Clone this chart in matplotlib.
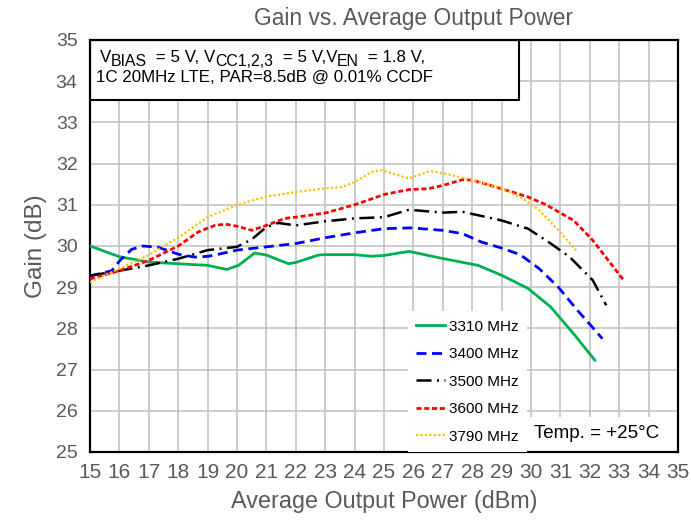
import matplotlib
matplotlib.use("Agg")
import matplotlib.pyplot as plt
from matplotlib.patches import Rectangle
from matplotlib.transforms import offset_copy

plt.rcParams['font.family'] = ['Liberation Sans', 'DejaVu Sans']

# Okunan veriler (dBm, dB)
x_3310 = [15, 16, 17, 18, 19, 19.65, 20.05, 20.6, 21.0, 21.75, 22.0, 22.77, 23.0, 24.0, 24.58,
          25.0, 25.85, 26.9, 28.2, 29.0, 29.9, 30.67, 31.45, 32.17]
g_3310 = [30.0, 29.74, 29.61, 29.57, 29.53, 29.43, 29.53, 29.83, 29.78, 29.57, 29.6, 29.78, 29.79,
          29.79, 29.75, 29.77, 29.87, 29.71, 29.53, 29.29, 28.97, 28.52, 27.87, 27.23]

x_3400 = [15, 15.74, 16.02, 16.42, 16.81, 17.32, 18.0, 18.57, 19.02, 19.37, 20.0, 21.0, 22.0, 23.0,
          24.0, 25.0, 25.9, 27.0, 27.67, 28.3, 29.0, 29.63, 30.28, 30.93, 31.58, 32.43]
g_3400 = [29.27, 29.4, 29.65, 29.92, 30.0, 29.97, 29.8, 29.73, 29.75, 29.8, 29.9, 29.98, 30.06, 30.2,
          30.32, 30.42, 30.44, 30.38, 30.3, 30.1, 29.95, 29.79, 29.45, 29.0, 28.44, 27.75]

x_3500 = [15, 16, 17, 18, 19, 20, 20.5, 21.0, 21.4, 22.0, 23.0, 24.0, 25.0, 25.85, 27.0, 27.67,
          29.0, 29.9, 30.67, 31.32, 32.1, 32.56]
g_3500 = [29.28, 29.4, 29.53, 29.69, 29.9, 29.98, 30.16, 30.46, 30.56, 30.5, 30.6, 30.67, 30.7,
          30.88, 30.81, 30.83, 30.62, 30.42, 30.06, 29.73, 29.17, 28.56]

x_3600 = [15, 16, 17, 18, 18.68, 19.25, 19.6, 20.0, 20.5, 21.0, 21.63, 22.0, 23.0, 24.0, 25.0,
          25.85, 26.5, 27.0, 27.67, 28.0, 29.0, 29.9, 30.54, 31.45, 32.1, 32.63, 33.15]
g_3600 = [29.2, 29.4, 29.65, 30.0, 30.34, 30.5, 30.53, 30.48, 30.38, 30.5, 30.67, 30.7, 30.8, 31.0,
          31.25, 31.37, 31.39, 31.47, 31.61, 31.6, 31.39, 31.19, 30.99, 30.62, 30.14, 29.65, 29.17]

x_3790 = [15, 16, 17, 17.5, 18, 18.5, 19, 20, 21, 22, 23, 23.56, 24.0, 24.58, 24.9, 25.85, 26.56,
          27.0, 28.0, 29.0, 29.63, 30.28, 30.93, 31.58]
g_3790 = [29.12, 29.45, 29.78, 30.0, 30.2, 30.45, 30.7, 31.0, 31.2, 31.31, 31.4, 31.43, 31.55, 31.8,
          31.84, 31.64, 31.82, 31.77, 31.6, 31.4, 31.19, 30.87, 30.38, 29.86]

# Koşul satırı: (metin, alt simge mi)
kosul_parcalari = [('V', False), ('BIAS', True), (' = 5 V, V', False), ('CC1,2,3', True),
                   (' = 5 V,V', False), ('EN', True), (' = 1.8 V,', False)]
kosul_satir2 = '1C 20MHz LTE, PAR=8.5dB @ 0.01% CCDF'

gri = '#595959'

fig = plt.figure(figsize=(6.91, 5.22), dpi=100)
ax = fig.add_axes([90 / 691, 70 / 522, 588 / 691, 412 / 522])

ax.plot(x_3310, g_3310, color='#00B050', lw=2.0, label='3310 MHz', zorder=3)
ax.plot(x_3400, g_3400, color='#0000FF', lw=2.0, dashes=(3.6, 2.0), label='3400 MHz', zorder=3)
ax.plot(x_3500, g_3500, color='black', lw=1.8, dashes=(6, 2.2, 0.8, 2.2), label='3500 MHz', zorder=3)
ax.plot(x_3600, g_3600, color='#FF0000', lw=2.0, dashes=(1.8, 1.0), label='3600 MHz', zorder=3)
ax.plot(x_3790, g_3790, color='#FFC000', lw=1.6, dashes=(1, 1), label='3790 MHz', zorder=3)

ax.set_xlim(15, 35)
ax.set_ylim(25, 35)
ax.set_xticks(range(15, 36))
ax.set_yticks(range(25, 36))
ax.grid(True, color='#BFBFBF', lw=1.1, zorder=0)
ax.set_axisbelow(True)
ax.tick_params(length=0, labelcolor=gri)
ax.tick_params(axis='x', pad=8, labelsize=15)
ax.tick_params(axis='y', pad=9, labelsize=14)
for s in ax.spines.values():
    s.set_color('black')
    s.set_linewidth(1.6)

ax.set_xlabel('Average Output Power (dBm)', fontsize=16.8, color=gri, labelpad=6)
ax.set_ylabel('Gain (dB)', fontsize=17.5, color=gri, labelpad=6)
fig.text(414 / 691, 1 - 18 / 522, 'Gain vs. Average Output Power', fontsize=16.4, color=gri,
         ha='center', va='center')

# Koşul kutusu
ax.add_patch(Rectangle((0, 1 - 60 / 412), 429 / 588, 60 / 412, transform=ax.transAxes,
                       facecolor='white', edgecolor='black', lw=1.5, zorder=2))
renderer = fig.canvas.get_renderer()
x_px = 0.0
for parca, alt in kosul_parcalari:
    tr = offset_copy(ax.transAxes, fig=fig, x=x_px, y=-4.0 if alt else 0.0, units='dots')
    t = ax.text(10 / 588, 1 - 17 / 412, parca, transform=tr, fontsize=11.4 if alt else 12.2,
                va='center', ha='left', zorder=4)
    x_px += t.get_window_extent(renderer).width + (4.0 if alt else 0)
ax.text(6 / 588, 1 - 37 / 412, kosul_satir2,
        transform=ax.transAxes, fontsize=12.2, va='center', ha='left', zorder=4)

# Sıcaklık kutusu
ax.add_patch(Rectangle((440 / 588, 0), 148 / 588, 35 / 412, transform=ax.transAxes,
                       facecolor='white', edgecolor='none', zorder=2))
ax.text(507 / 588, 19 / 412, 'Temp. = +25°C', transform=ax.transAxes, fontsize=13.5,
        ha='center', va='center', zorder=4)

leg = ax.legend(loc='lower left', bbox_to_anchor=(318 / 588, 0), borderaxespad=0,
                fontsize=11, frameon=True, fancybox=False, framealpha=1,
                facecolor='white', edgecolor='none', handlelength=1.85,
                handletextpad=0.3, labelspacing=0.88, borderpad=0.55)
leg.set_zorder(5)

fig.savefig('out.png', dpi=100)
